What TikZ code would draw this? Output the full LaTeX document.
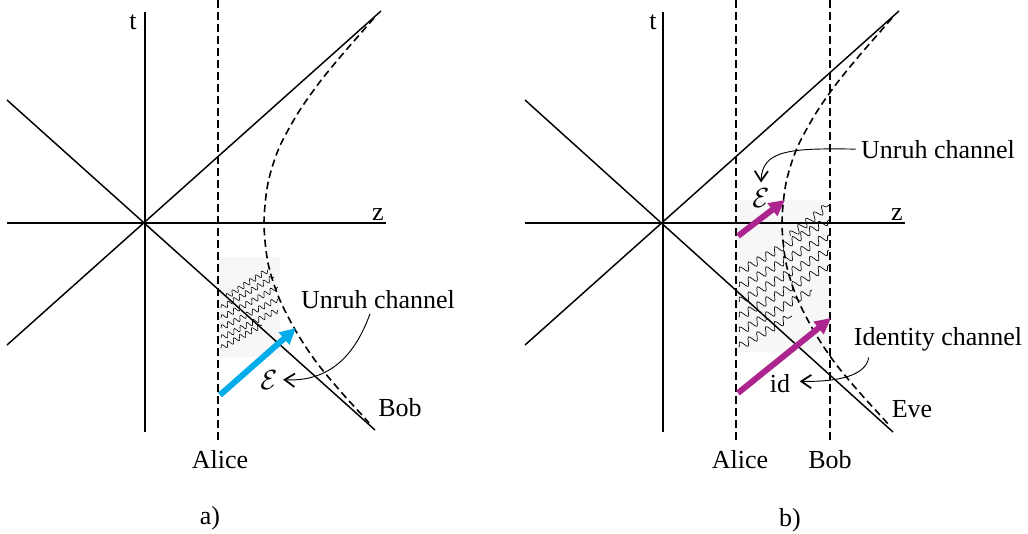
\documentclass[tikz,border=0pt]{standalone}
\usepackage{fontspec}
\setmainfont{Liberation Serif}
\usetikzlibrary{arrows.meta,decorations.pathmorphing}
\definecolor{ublue}{RGB}{0,172,234}
\definecolor{umag}{RGB}{172,36,142}
\begin{document}
\begin{tikzpicture}[x=0.75pt,y=-0.75pt,
  every node/.style={font=\fontsize{19.5}{23}\selectfont, inner sep=0pt, anchor=base},
  axis/.style={line width=1.1pt},
  worldline/.style={line width=1.2pt, dash pattern=on 6pt off 3pt},
  accel/.style={line width=1.2pt, dash pattern=on 5.5pt off 3.2pt},
  wavea/.style={line width=0.45pt, decorate, decoration={snake, amplitude=2pt, segment length=5.2pt}},
  waveb/.style={line width=0.5pt, decorate, decoration={snake, amplitude=3pt, segment length=7.6pt}},
  patch/.style={fill=black!3},
  qarrow/.style={line width=4.5pt, -{Triangle[length=12pt,width=11.5pt]}},
  pointer/.style={line width=0.7pt, -{Straight Barb[length=7.5pt,width=10pt,line width=1.3pt]}},
]
\useasboundingbox (0,0) rectangle (1028,533);

% ================= panel a =================
\fill[patch] (218,257) rectangle (280,357);
\draw[wavea] (226,297) -- (268,270);
\draw[wavea] (221,308) -- (274,277);
\draw[wavea] (221,318) -- (278,287);
\draw[wavea] (221,328) -- (280,298);
\draw[wavea] (221,338) -- (278,310);
\draw[wavea] (221,348) -- (262,325);

\draw[axis] (145,12) -- (145,432);
\draw[axis] (7,223) -- (386,223);
\draw[axis] (7,100) -- (375,430);
\draw[axis] (7,345) -- (381,11);
\draw[worldline] (218,0) -- (218,440);
\begin{scope}[shift={(145,223)}]
\draw[accel] plot[smooth] coordinates {(229,-205) (216,-190) (196,-167) (174,-140) (153,-110) (134,-75) (123,-40) (119,0) (123,40) (134,75) (152,110) (172,140) (197,170) (217,192) (224,200)};
\end{scope}

\coordinate (blueTail) at (220,395);
\coordinate (blueTip) at (296,328);
\draw[qarrow, ublue] (blueTail) -- (blueTip);

\node (ta) at (133,29) {t};
\node (za) at (378,220) {z};
\node (unruhA) at (378,308) {Unruh channel};
\node (EA) at (269,389) {$\mathcal{E}$};
\node (bobA) at (400,416) {Bob};
\node (aliceA) at (220,468) {Alice};
\node (labA) at (210,524) {a)};
\draw[pointer] ([xshift=-6pt,yshift=-4pt]unruhA.south) .. controls (355,355) and (330,382) .. ([xshift=4pt,yshift=7pt]EA.base east);

% ================= panel b =================
\fill[patch] (736,200) rectangle (830,352);
\begin{scope}
\clip (738,198) rectangle (829,352);
\draw[waveb] (790,236) -- (829,205);
\draw[waveb] (739,272) -- (829,220);
\draw[waveb] (739,287) -- (829,235);
\draw[waveb] (739,302) -- (829,250);
\draw[waveb] (739,317) -- (829,265);
\draw[waveb] (739,332) -- (812,290);
\draw[waveb] (739,347) -- (792,316);
\end{scope}

\draw[axis] (663,12) -- (663,432);
\draw[axis] (525,223) -- (905,223);
\draw[axis] (525,100) -- (893,432);
\draw[axis] (525,345) -- (899,11);
\draw[worldline] (736,0) -- (736,440);
\draw[worldline] (830,0) -- (830,440);
\begin{scope}[shift={(663,223)}]
\draw[accel] plot[smooth] coordinates {(229,-205) (216,-190) (196,-167) (174,-140) (153,-110) (134,-75) (123,-40) (119,0) (123,40) (134,75) (152,110) (172,140) (197,170) (217,192) (226,202)};
\end{scope}

\coordinate (magTailA) at (738,236);
\coordinate (magTipA) at (785,200);
\coordinate (magTailB) at (738,393);
\coordinate (magTipB) at (831,318);
\draw[qarrow, umag] (magTailA) -- (magTipA);
\draw[qarrow, umag] (magTailB) -- (magTipB);

\node (tb) at (653,29) {t};
\node (zb) at (897,220) {z};
\node (unruhB) at (938,158) {Unruh channel};
\node (EB) at (761,207) {$\mathcal{E}$};
\node (identB) at (938,345) {Identity channel};
\node (idB) at (780,392) {id};
\node (eveB) at (912,417) {Eve};
\node (aliceB) at (740,468) {Alice};
\node (bobB) at (830,468) {Bob};
\node (labB) at (790,526) {b)};
\draw[pointer] ([xshift=-4pt]unruhB.west) .. controls (790,148) and (762,150) .. ([yshift=4pt]EB.north);
\draw[pointer] ([xshift=-52pt,yshift=-5pt]identB.south) .. controls (866,375) and (840,382) .. ([xshift=7pt,yshift=8pt]idB.base east);
\end{tikzpicture}
\end{document}
